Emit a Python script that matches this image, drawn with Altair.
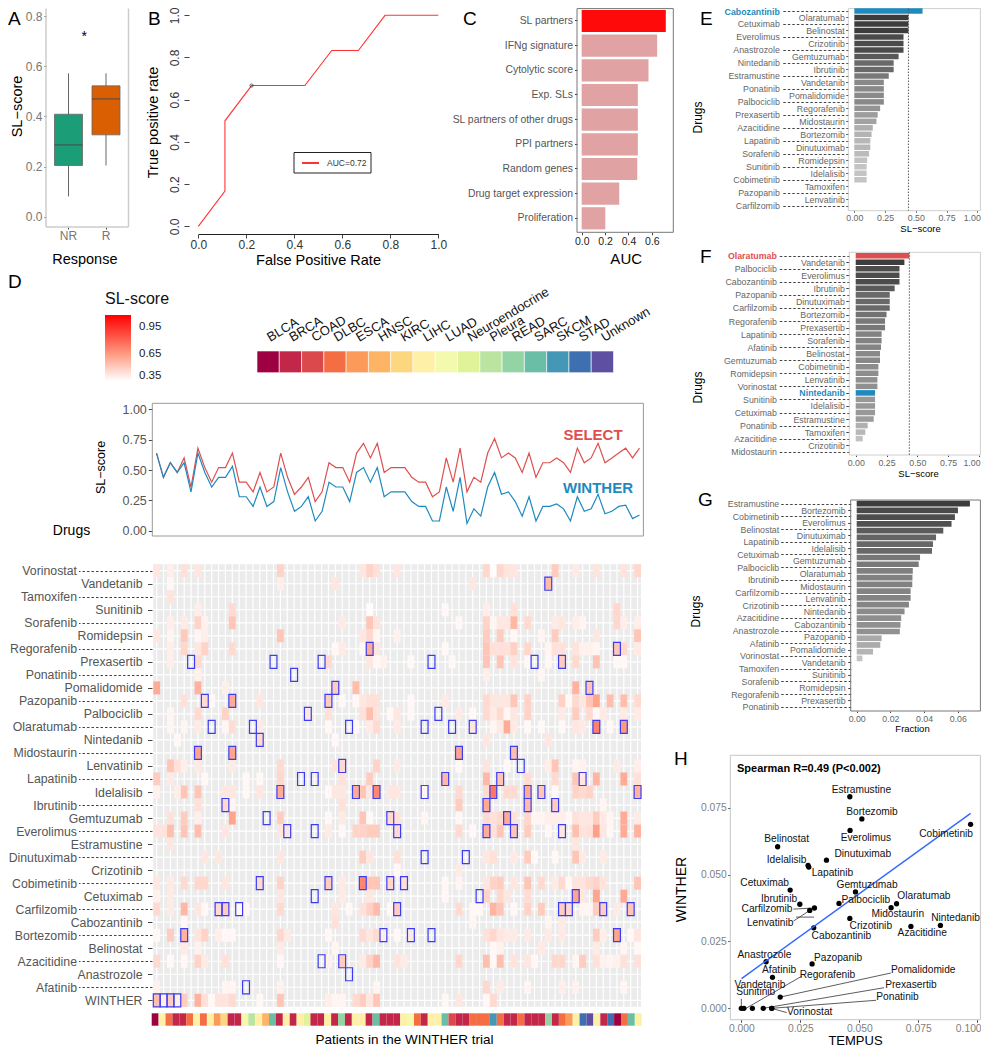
import altair as alt
import pandas as pd

W, H = 973, 1038
FONT = "Liberation Sans"

# ---------- data ----------
box_groups = ["NR", "R"]
box_min = [0.082, 0.205]
box_q1 = [0.205, 0.327]
box_med = [0.287, 0.47]
box_q3 = [0.409, 0.522]
box_max = [0.572, 0.572]

roc_fpr = [0, 0.111, 0.111, 0.222, 0.444, 0.556, 0.667, 0.778, 1]
roc_tpr = [0, 0.167, 0.5, 0.667, 0.667, 0.833, 0.833, 1, 1]

auc_names = ["SL partners", "IFNg signature", "Cytolytic score", "Exp. SLs", "SL partners of other drugs",
             "PPI partners", "Random genes", "Drug target expression", "Proliferation"]
auc_vals = [0.719, 0.645, 0.571, 0.48, 0.48, 0.48, 0.475, 0.321, 0.202]

e_names = ["Cabozantinib", "Olaratumab", "Cetuximab", "Belinostat", "Everolimus", "Crizotinib", "Anastrozole",
           "Gemtuzumab", "Nintedanib", "Ibrutinib", "Estramustine", "Vandetanib", "Ponatinib", "Pomalidomide",
           "Palbociclib", "Regorafenib", "Prexasertib", "Midostaurin", "Azacitidine", "Bortezomib", "Lapatinib",
           "Dinutuximab", "Sorafenib", "Romidepsin", "Sunitinib", "Idelalisib", "Cobimetinib", "Tamoxifen",
           "Pazopanib", "Lenvatinib", "Carfilzomib"]
e_vals = [0.555, 0.44, 0.44, 0.44, 0.40, 0.40, 0.40, 0.36, 0.32, 0.32, 0.28, 0.24, 0.24, 0.24, 0.24, 0.21, 0.19,
          0.18, 0.15, 0.14, 0.13, 0.13, 0.12, 0.105, 0.10, 0.10, 0.10, 0, 0, 0, 0]

f_names = ["Olaratumab", "Vandetanib", "Palbociclib", "Everolimus", "Cabozantinib", "Ibrutinib", "Pazopanib",
           "Dinutuximab", "Carfilzomib", "Bortezomib", "Regorafenib", "Prexasertib", "Lapatinib", "Sorafenib",
           "Afatinib", "Belinostat", "Gemtuzumab", "Cobimetinib", "Romidepsin", "Lenvatinib", "Vorinostat",
           "Nintedanib", "Sunitinib", "Idelalisib", "Cetuximab", "Estramustine", "Ponatinib", "Tamoxifen",
           "Azacitidine", "Crizotinib", "Midostaurin"]
f_vals = [0.435, 0.395, 0.355, 0.355, 0.355, 0.316, 0.276, 0.276, 0.276, 0.25, 0.238, 0.238, 0.21, 0.21, 0.205,
          0.197, 0.197, 0.184, 0.184, 0.176, 0.176, 0.157, 0.157, 0.157, 0.157, 0.146, 0.097, 0.078, 0.057, 0, 0]

g_names = ["Estramustine", "Bortezomib", "Cobimetinib", "Everolimus", "Belinostat", "Dinutuximab", "Lapatinib",
           "Idelalisib", "Cetuximab", "Gemtuzumab", "Palbociclib", "Olaratumab", "Ibrutinib", "Midostaurin",
           "Carfilzomib", "Lenvatinib", "Crizotinib", "Nintedanib", "Azacitidine", "Cabozantinib", "Anastrozole",
           "Pazopanib", "Afatinib", "Pomalidomide", "Vorinostat", "Vandetanib", "Tamoxifen", "Sunitinib",
           "Sorafenib", "Romidepsin", "Regorafenib", "Prexasertib", "Ponatinib"]
g_vals = [0.0672, 0.0601, 0.0583, 0.0563, 0.0514, 0.0471, 0.0453, 0.0447, 0.0376, 0.0368, 0.0333, 0.0331, 0.033,
          0.032, 0.032, 0.031, 0.0284, 0.0264, 0.026, 0.0256, 0.0148, 0.014, 0.0097, 0.0034]

h_names = ["Estramustine", "Bortezomib", "Everolimus", "Cobimetinib", "Belinostat", "Dinutuximab", "Idelalisib",
           "Lapatinib", "Cetuximab", "Gemtuzumab", "Palbociclib", "Olaratumab", "Ibrutinib", "Midostaurin",
           "Carfilzomib", "Lenvatinib", "Crizotinib", "Nintedanib", "Azacitidine", "Cabozantinib", "Anastrozole",
           "Pazopanib", "Afatinib", "Pomalidomide", "Regorafenib", "Prexasertib", "Vandetanib", "Ponatinib",
           "Sunitinib", "Vorinostat"]
h_tempus = [0.046, 0.0511, 0.0461, 0.0972, 0.0154, 0.0361, 0.0283, 0.0286, 0.0207, 0.0484, 0.0414, 0.0658, 0.0248,
            0.0635, 0.031, 0.029, 0.046, 0.0844, 0.0719, 0.0307, 0.0105, 0.03, 0.0132, 0.0165, 0.0047, 0.0093,
            0.0011, 0.0129, 0.0, 0.0129]
h_winther = [0.0791, 0.0708, 0.0665, 0.0688, 0.0604, 0.0554, 0.0534, 0.0528, 0.0442, 0.0435, 0.0392, 0.0391, 0.0389,
             0.0376, 0.0375, 0.0366, 0.0336, 0.031, 0.0306, 0.0301, 0.0174, 0.0166, 0.0116, 0.0042, 0, 0, 0, 0, 0, 0]
h_label_x = [0.0509, 0.0554, 0.0528, 0.0868, 0.0192, 0.0515, 0.0192, 0.0386, 0.0099, 0.0533, 0.0528, 0.0774, 0.016,
             0.0663, 0.0109, 0.0122, 0.0549, 0.0908, 0.0767, 0.0424, 0.0098, 0.041, 0.016, 0.0771, 0.0365, 0.0719,
             0.0079, 0.0662, 0.0061, 0.029]
h_label_y = [0.0817, 0.0734, 0.0638, 0.0652, 0.0632, 0.0578, 0.0554, 0.0506, 0.0468, 0.046, 0.0404, 0.042, 0.0407,
             0.0351, 0.0371, 0.0318, 0.0309, 0.0338, 0.0283, 0.0269, 0.0201, 0.0189, 0.0143, 0.0142, 0.0125, 0.0088,
             0.0088, 0.0044, 0.006, -0.0012]
lead_x0 = [0.0221, 0.0221, 0.0232, 0.002, 0.0165, 0.0093, 0.0129, 0.0129, 0.0]
lead_y0 = [0.0371, 0.0326, 0.0341, 0.0, 0.0042, 0.0, 0.0, 0.0, 0.0036]
lead_x1 = [0.031, 0.029, 0.0308, 0.0256, 0.0634, 0.0605, 0.0571, 0.0192, 0.0]
lead_y1 = [0.0375, 0.0366, 0.0341, 0.012, 0.0132, 0.0077, 0.003, -0.0016, 0.0005]
fit_x = [0.0001, 0.0972]
fit_y = [0.0111, 0.0729]

select_line = [.64, .44, .56, .48, .60, .36, .68, .52, .40, .52, .52, .64, .40, .40, .32, .48, .32, .36, .64, .44,
               .30, .36, .44, .24, .32, .56, .52, .52, .40, .64, .72, .60, .72, .48, .52, .52, .52, .44, .40, .40,
               .28, .32, .60, .40, .68, .32, .44, .40, .64, .76, .60, .64, .60, .48, .64, .44, .56, .56, .60, .56,
               .48, .68, .56, .60, .72, .56, .60, .64, .68, .60, .68]
winther_line = [.64, .44, .56, .48, .56, .32, .64, .48, .36, .44, .44, .53, .28, .28, .20, .36, .20, .24, .52, .32,
                .16, .20, .28, .08, .16, .40, .36, .36, .24, .48, .52, .40, .52, .28, .32, .32, .32, .24, .20, .20,
                .08, .08, .36, .16, .44, .06, .18, .12, .36, .48, .30, .32, .24, .12, .28, .08, .20, .20, .22, .18,
                .08, .28, .16, .18, .30, .14, .16, .20, .21, .10, .13]

tumours = ["BLCA", "BRCA", "COAD", "DLBC", "ESCA", "HNSC", "KIRC", "LIHC", "LUAD", "Neuroendocrine", "Pleura",
           "READ", "SARC", "SKCM", "STAD", "Unknown"]
tumour_colours = ["#9E0142", "#C2274A", "#DC494C", "#F46D43", "#FB9A59", "#FDB565", "#FDD680", "#FEF0A7", "#F3FAAD",
                  "#E1F398", "#BBE4A0", "#94D4A4", "#69BEA5", "#4498B5", "#3E6FB0", "#5E4FA2"]
patient_tumour = ["BLCA", "LIHC", "DLBC", "BRCA", "BRCA", "DLBC", "LIHC", "DLBC", "LIHC", "ESCA", "KIRC", "BRCA",
                  "BRCA", "LUAD", "Pleura", "LIHC", "HNSC", "SARC", "BRCA", "LIHC", "BRCA", "LIHC", "Neuroendocrine",
                  "BRCA", "BRCA", "LIHC", "BRCA", "READ", "BRCA", "LIHC", "LIHC", "BRCA", "SARC", "BRCA", "BRCA",
                  "BRCA", "LIHC", "LUAD", "DLBC", "BRCA", "LIHC", "LIHC", "SARC", "COAD", "BRCA", "BRCA", "DLBC",
                  "DLBC", "DLBC", "SKCM", "DLBC", "BRCA", "BRCA", "DLBC", "BRCA", "BRCA", "BRCA", "READ", "BRCA",
                  "DLBC", "ESCA", "LIHC", "STAD", "Unknown", "LIHC", "BRCA", "STAD", "BLCA", "DLBC", "SARC", "LIHC"]

heat_drugs = ["Vorinostat", "Vandetanib", "Tamoxifen", "Sunitinib", "Sorafenib", "Romidepsin", "Regorafenib",
              "Prexasertib", "Ponatinib", "Pomalidomide", "Pazopanib", "Palbociclib", "Olaratumab", "Nintedanib",
              "Midostaurin", "Lenvatinib", "Lapatinib", "Idelalisib", "Ibrutinib", "Gemtuzumab", "Everolimus",
              "Estramustine", "Dinutuximab", "Crizotinib", "Cobimetinib", "Cetuximab", "Carfilzomib", "Cabozantinib",
              "Bortezomib", "Belinostat", "Azacitidine", "Anastrozole", "Afatinib", "WINTHER"]
heat_tiles = [
 {0:.42,2:.40,4:.44,6:.42,18:.48,30:.42,31:.48,32:.44,35:.42,48:.47,49:.36,50:.47,51:.43,52:.42,58:.5,61:.41,64:.43,68:.43,70:.47},
 {2:.37,18:.40,26:.42,46:.42,57:.55},
 {2:.43},
 {6:.40,11:.46,31:.36,42:.37,48:.40,52:.44,67:.47},
 {2:.40,4:.41,6:.48,7:.39,11:.52,27:.41,31:.52,32:.43,44:.37,48:.48,49:.38,50:.42,51:.42,52:.56,54:.46,58:.41,59:.42,61:.40,62:.38,67:.47,68:.40,70:.40},
 {0:.42,2:.38,4:.51,6:.38,7:.40,18:.52,30:.42,31:.47,32:.38,35:.39,48:.5,50:.5,52:.37,56:.38,58:.5,64:.42,70:.52},
 {2:.40,4:.47,6:.42,7:.48,11:.46,26:.37,27:.41,30:.37,31:.6,32:.42,42:.37,48:.52,49:.44,50:.44,51:.44,52:.49,54:.47,57:.38,58:.44,59:.44,61:.43,62:.39,63:.39,64:.38,67:.52,68:.46,70:.41},
 {2:.40,6:.46,25:.46,31:.42,32:.37,33:.39,37:.37,43:.37,48:.52,50:.52,52:.43,54:.37,57:.37,59:.5,61:.46,64:.53,67:.37,68:.37},
 {6:.39,48:.40,56:.38},
 {0:.6,6:.58,10:.4,26:.5,29:.55,61:.58,63:.52},
 {4:.44,7:.46,8:.37,11:.6,15:.42,25:.5,27:.37,29:.37,30:.42,31:.44,32:.44,37:.37,42:.41,48:.46,49:.42,50:.42,51:.42,52:.52,54:.48,59:.49,60:.37,61:.46,62:.42,63:.52,64:.62,66:.54,68:.54,70:.46},
 {2:.38,6:.46,10:.48,22:.42,25:.44,30:.44,31:.54,32:.43,34:.37,35:.42,37:.37,44:.41,46:.37,48:.46,49:.41,50:.46,51:.38,52:.42,54:.48,59:.41,61:.5,63:.46,64:.37,65:.41,68:.41,70:.41},
 {2:.38,4:.38,6:.41,10:.38,11:.45,15:.41,25:.37,29:.37,31:.41,32:.46,35:.41,46:.42,49:.38,50:.41,51:.6,52:.41,54:.37,56:.37,59:.37,61:.42,62:.41,64:.72,66:.37,68:.65},
 {3:.37,15:.46,26:.37,48:.42,57:.42},
 {6:.62,11:.62,44:.62,52:.54},
 {2:.52,3:.44,4:.40,6:.41,11:.41,18:.46,26:.43,27:.46,32:.48,35:.41,44:.37,48:.43,51:.37,57:.40,58:.52,61:.38,62:.39,67:.41,70:.40},
 {0:.5,2:.41,7:.37,13:.37,15:.37,18:.47,27:.44,31:.5,42:.56,48:.56,50:.52,54:.45,58:.46,61:.52,62:.42,64:.57,68:.6,70:.44},
 {0:.39,3:.4,4:.52,6:.52,10:.42,11:.42,13:.37,15:.42,18:.6,25:.37,26:.42,27:.42,29:.6,30:.52,31:.42,32:.7,34:.42,35:.42,39:.38,44:.46,48:.46,49:.75,51:.46,52:.46,54:.6,56:.52,58:.37,61:.48,62:.46,63:.48,70:.58},
 {6:.44,10:.46,11:.38,27:.44,44:.5,48:.6,54:.55,58:.5,65:.38},
 {2:.44,4:.5,6:.4,11:.62,18:.5,25:.37,27:.41,30:.52,31:.37,34:.46,35:.44,39:.38,44:.37,48:.46,49:.44,50:.46,51:.6,52:.44,54:.47,55:.38,56:.38,57:.40,58:.40,59:.40,60:.37,61:.44,62:.42,63:.42,64:.5,65:.41,66:.38,68:.6,70:.41},
 {0:.43,1:.43,2:.54,4:.52,6:.54,10:.42,18:.42,19:.42,25:.41,27:.37,29:.48,30:.48,31:.5,32:.5,35:.46,44:.46,46:.37,48:.6,49:.44,50:.52,52:.52,54:.5,57:.37,59:.42,61:.54,62:.43,63:.44,64:.63,65:.42,66:.37,68:.6,70:.58},
 {2:.42,61:.42},
 {7:.42,9:.42,18:.42,30:.5,31:.42,35:.44,48:.42,49:.44,52:.41,54:.5,55:.37,58:.37,61:.52,62:.41,65:.41},
 {35:.37,44:.41},
 {0:.42,2:.41,4:.46,6:.47,7:.47,10:.42,15:.46,18:.48,25:.5,27:.41,30:.7,31:.52,32:.52,34:.47,36:.44,42:.37,44:.38,48:.42,49:.48,50:.5,52:.42,54:.52,56:.46,58:.41,59:.46,60:.37,61:.43,62:.43,63:.46,64:.48,65:.43,70:.52},
 {0:.39,2:.41,18:.42,27:.41,31:.42,42:.37,48:.48,50:.47,51:.42,54:.45,61:.62,62:.42,64:.62,68:.6},
 {0:.46,2:.41,4:.56,6:.42,7:.37,9:.46,10:.5,12:.37,13:.37,18:.46,26:.42,28:.37,30:.44,31:.49,32:.55,34:.37,35:.5,44:.46,46:.37,47:.37,49:.57,50:.52,52:.37,54:.48,56:.5,59:.5,60:.46,62:.38,63:.38,64:.5,65:.5,67:.41,69:.52},
 {4:.37,26:.44,46:.38,57:.38,59:.41},
 {0:.37,2:.5,4:.58,6:.43,7:.48,9:.4,10:.37,11:.37,18:.47,19:.41,25:.37,30:.46,31:.42,32:.46,33:.4,35:.37,37:.41,48:.44,49:.47,50:.42,51:.41,52:.41,54:.41,57:.41,59:.41,64:.5,65:.4,67:.62,69:.37,70:.42},
 {4:.41,6:.39,18:.41,26:.38,49:.37,50:.39,56:.41,64:.41,68:.38,70:.37},
 {0:.46,2:.37,4:.37,6:.48,7:.41,10:.44,18:.37,25:.39,27:.5,30:.41,31:.48,32:.56,35:.43,36:.41,44:.47,48:.54,49:.37,50:.54,52:.43,54:.42,55:.37,58:.47,59:.47,61:.38,62:.5,64:.44,65:.39,66:.38,67:.39,68:.44,70:.44},
 {},
 {0:.39,10:.38,11:.38,18:.39,32:.38,48:.47,50:.41,54:.38,59:.40,61:.39,68:.38},
 {0:.54,1:.4,2:.5,3:.4,4:.5,6:.58,7:.44,8:.37,9:.43,10:.43,11:.46,15:.37,18:.52,25:.4,26:.38,27:.38,29:.46,30:.5,31:.42,32:.52,42:.37,44:.42,48:.37,49:.46},
]
heat_boxes = {1:[57],6:[31,67],7:[5,17,24,40,55,59],8:[20],9:[26,63],10:[7,11,25],11:[22,41],
              12:[8,14,28,39,43,46,64,68],13:[15],14:[6,11,44,52],15:[27,53],16:[21,23,42,50,62],
              17:[18,29,32,39,49,54,56,70],18:[10,48,54,58],19:[16,34,51],20:[19,23,35,48,52,59],22:[39,45],
              24:[15,25,30,34,36],25:[23,47,61],26:[9,10,12,35,59,60,65,69],28:[4,33,37,40,67],30:[24,27],
              31:[28],32:[13],33:[0,1,2,3]}

# ---------- helpers ----------
one = pd.DataFrame({"k": [0]})
L = []


def vx(p):
    return p - 8


def xscale(domain, r0, r1):
    return alt.Scale(domain=domain, range=[vx(r0), vx(r1)], nice=False, zero=False)


def yscale(domain, bottom, top):
    return alt.Scale(domain=domain, range=[vx(bottom), vx(top)], nice=False, zero=False)


def frame(x0, x1, y0, y1, colour, width=1.0):
    L.append(alt.Chart(one).mark_rect(fillOpacity=0, stroke=colour, strokeWidth=width).encode(
        x=alt.value(vx(x0)), x2=alt.value(vx(min(x1, 980.4))), y=alt.value(vx(max(y0, 8.6))), y2=alt.value(vx(y1))))


def note(text, x, y, size=12, colour="#000000", weight="normal", align="left", angle=0):
    L.append(alt.Chart(one).mark_text(text=text, fontSize=size, color=colour, fontWeight=weight, align=align,
                                      baseline="middle", angle=angle, font=FONT).encode(
        x=alt.value(vx(x)), y=alt.value(vx(y))))


def left_axis(x, title=None, tx=0, ty=0, size=12, colour="#4d4d4d", tick=3, pad=2, title_size=14, angle=270, **kw):
    d = dict(orient="left", offset=-vx(x), labelFontSize=size, labelColor=colour, tickSize=tick, labelPadding=pad,
             title=title, domain=False, grid=False, tickColor="#444444", labelFlush=False, labelOverlap=False)
    if title:
        d.update(titleX=tx - x, titleY=vx(ty), titleFontSize=title_size, titleAlign="center",
                 titleBaseline="middle", titleAngle=angle, titleFontWeight="normal", titleColor="#000000")
    d.update(kw)
    return alt.Axis(**d)


def bottom_axis(y, title=None, tx=0, ty=0, size=12, colour="#4d4d4d", tick=3, pad=2, title_size=14, **kw):
    d = dict(orient="bottom", offset=vx(y) - H, labelFontSize=size, labelColor=colour, tickSize=tick, labelPadding=pad,
             title=title, domain=False, grid=False, tickColor="#444444", labelFlush=False, labelOverlap=False)
    if title:
        d.update(titleX=vx(tx), titleY=ty - y, titleFontSize=title_size, titleAlign="center",
                 titleBaseline="middle", titleFontWeight="normal", titleColor="#000000")
    d.update(kw)
    return alt.Axis(**d)


def split_axes(names, c0, cn, ax, far_tick, far_pad, near_tick, near_pad, size, colour, title=None, tx=0, ty=0,
               title_size=12, title_angle=270, highlight=None):
    """Two axes on one category scale: alternate labels, the far ones reached by a dashed tick."""
    highlight = highlight or {}
    scale = alt.Scale(type="point", domain=names, range=[vx(c0), vx(cn)], padding=0)
    far = names[0::2]
    near = names[1::2]
    df = pd.DataFrame({"name": names})

    def label_style(vals):
        test = [n for n in vals if n in highlight]
        if not test:
            return {"labelColor": colour}
        n = test[0]
        return {"labelColor": {"condition": {"test": f"datum.value === '{n}'", "value": highlight[n]}, "value": colour},
                "labelFontWeight": {"condition": {"test": f"datum.value === '{n}'", "value": "bold"}, "value": "normal"}}

    far_opts = dict(values=far, tickDash=[2.5, 2])
    far_opts.update(label_style(far))
    near_opts = dict(values=near)
    near_opts.update(label_style(near))
    a_far = left_axis(ax, title, tx, ty, size=size, tick=far_tick, pad=far_pad, title_size=title_size,
                      angle=title_angle, **far_opts)
    a_near = left_axis(ax, size=size, tick=near_tick, pad=near_pad, **near_opts)
    for a in (a_far, a_near):
        L.append(alt.Chart(df).mark_point(opacity=0).encode(
            y=alt.Y("name:N", sort=None, scale=scale, axis=a),
            x=alt.value(0)))


def band(names, c0, cn, inner=0.15):
    p = (cn - c0) / (len(names) - 1)
    return alt.Scale(domain=names, range=[vx(c0 - p / 2), vx(cn + p / 2)], paddingInner=inner, paddingOuter=inner / 2)


def nudge_last(value, dx):
    return {"condition": {"test": f"datum.value === {value}", "value": dx}, "value": 0}


# ---------- panel letters ----------
for letter, x, y in [("A", 8, 19), ("B", 148, 19), ("C", 463, 19), ("D", 8, 282), ("E", 700, 19), ("F", 700, 257),
                     ("G", 698, 500), ("H", 674, 759)]:
    note(letter, x, y, size=19)

# ---------- A ----------
ay = yscale([-0.04, 0.836], 227, 7)
ax_scale = alt.Scale(domain=box_groups, range=[vx(46), vx(128.5)], paddingInner=0, paddingOuter=0.1)
adf = pd.DataFrame({"g": box_groups, "lo": box_min, "q1": box_q1, "med": box_med, "q3": box_q3, "hi": box_max})
for x0, x1, y0, y1 in [(46, 46, 8.5, 227), (128.5, 128.5, 8.5, 227), (46, 128.5, 227, 227)]:
    L.append(alt.Chart(one).mark_rule(color="#cccccc", strokeWidth=1.5).encode(
        x=alt.value(vx(x0)), x2=alt.value(vx(x1)), y=alt.value(vx(y0)), y2=alt.value(vx(y1))))
L.append(alt.Chart(adf).mark_rule(color="#666666", strokeWidth=1).encode(
    x=alt.X("g:N", scale=ax_scale, sort=None,
            axis=bottom_axis(227, "Response", 84.3, 259, size=12, colour="#777777", tick=2, pad=1, title_size=14.5,
                             labelAngle=0)),
    y=alt.Y("lo:Q", scale=ay, axis=left_axis(46, "SL−score", 17, 106, size=12, colour="#777777", tick=2, pad=2,
                                             title_size=14.5, values=[0, .2, .4, .6, .8], format=".1f")),
    y2="hi:Q"))
L.append(alt.Chart(adf).mark_bar(size=28, stroke="#666666", strokeWidth=0.8).encode(
    x=alt.X("g:N", scale=ax_scale, sort=None, axis=None),
    y=alt.Y("q1:Q", scale=ay, axis=None), y2="q3:Q",
    color=alt.Color("g:N", scale=alt.Scale(domain=box_groups, range=["#1B9E77", "#D95F02"]), legend=None)))
L.append(alt.Chart(adf).mark_tick(size=28, thickness=1.5, color="#4a4a4a").encode(
    x=alt.X("g:N", scale=ax_scale, sort=None, axis=None),
    y=alt.Y("med:Q", scale=ay, axis=None)))
note("*", 84.3, 37, size=14, align="center")

# ---------- B ----------
bx = xscale([0, 1], 198.3, 438.3)
by = yscale([0, 1], 226.3, 15.3)
bdf = pd.DataFrame({"fpr": roc_fpr, "tpr": roc_tpr, "i": range(len(roc_fpr))})
L.append(alt.Chart(bdf).mark_line(color="#FF3333", strokeWidth=1.1).encode(
    x=alt.X("fpr:Q", scale=bx, axis=bottom_axis(234, "False Positive Rate", 318, 260, size=12, colour="#333333",
                                                tick=4, pad=1.5, title_size=14.5, domain=True, domainColor="#222222",
                                                values=[0, .2, .4, .6, .8, 1], format=".1f")),
    y=alt.Y("tpr:Q", scale=by, axis=left_axis(189, "True positive rate", 153, 122, size=12, colour="#333333", tick=5,
                                              pad=3, title_size=14.5, values=[0, .2, .4, .6, .8, 1], format=".1f",
                                              labelAngle=-90, labelAlign="center", labelBaseline="bottom")),
    order="i:Q"))
L.append(alt.Chart(pd.DataFrame({"fpr": [roc_fpr[3]], "tpr": [roc_tpr[3]]})).mark_point(
    size=10, stroke="#111111", strokeWidth=0.9).encode(
    x=alt.X("fpr:Q", scale=bx, axis=None), y=alt.Y("tpr:Q", scale=by, axis=None)))
frame(294, 371, 152.5, 173, "#222222", 1)
L.append(alt.Chart(one).mark_rule(color="#FF0000", strokeWidth=1.6).encode(
    x=alt.value(vx(302)), x2=alt.value(vx(319)), y=alt.value(vx(163))))
note("AUC=0.72", 327, 163, size=8.5, colour="#333333")

# ---------- C ----------
frame(577, 673.3, 6, 232.3, "#777777", 1)
cx = xscale([-0.04, 0.783], 577, 673.3)
cband = band(auc_names, 21, 218.3, 0.1)
cdf = pd.DataFrame({"name": auc_names, "v": auc_vals,
                    "top": ["yes" if i == 0 else "no" for i in range(len(auc_names))]})
L.append(alt.Chart(cdf).mark_bar().encode(
    y=alt.Y("name:N", sort=None, scale=cband,
            axis=left_axis(577, size=10.4, colour="#555555", tick=2.5, pad=2)),
    x=alt.X("v:Q", scale=cx, axis=bottom_axis(232.3, "AUC", 625.7, 258, size=10.5, colour="#222222", tick=2.5, pad=2,
                                              title_size=15, values=[0, .2, .4, .6], format=".1f")),
    color=alt.Color("top:N", scale=alt.Scale(domain=["yes", "no"], range=["#FF0A0A", "#E0A2A2"]), legend=None)))


# ---------- E, F, G ----------
def drug_panel(bar_names, vals, frame_box, frame_col, x_dom, ticks, fmt, c0, cn, x_title, tx, ty,
               vline=None, highlight_bars=None, grey_dom=(0.1, 0.44), axis_extra=None):
    x0, x1, y0, y1 = frame_box
    frame(x0, x1, y0, y1, frame_col, 1)
    xs = xscale(x_dom, x0, x1)
    highlight_bars = highlight_bars or {}
    axis_extra = axis_extra or {}
    bs = band(bar_names, c0, cn, 0.15)
    df = pd.DataFrame({"name": bar_names, "v": vals})
    grey = df[(~df["name"].isin(highlight_bars)) & (df["v"] > 0)]
    L.append(alt.Chart(grey).mark_bar().encode(
        y=alt.Y("name:N", sort=None, scale=bs, axis=None),
        x=alt.X("v:Q", scale=xs, axis=bottom_axis(y1, x_title, tx, ty, size=8.8, colour="#666666", tick=1.5, pad=1.5,
                                                  title_size=9.5, values=ticks, format=fmt, **axis_extra)),
        color=alt.Color("v:Q", scale=alt.Scale(domain=list(grey_dom), range=["#c4c4c4", "#3c3c3c"]), legend=None)))
    for n, colr in highlight_bars.items():
        L.append(alt.Chart(df[df["name"] == n]).mark_bar(color=colr).encode(
            y=alt.Y("name:N", sort=None, scale=bs, axis=None),
            x=alt.X("v:Q", scale=xs, axis=None)))
    if vline is not None:
        L.append(alt.Chart(pd.DataFrame({"v": [vline]})).mark_rule(color="#555555", strokeWidth=1,
                                                                   strokeDash=[1.5, 1.5]).encode(
            x=alt.X("v:Q", scale=xs, axis=None), y=alt.value(vx(max(y0, 8.6))), y2=alt.value(vx(y1))))


BLUE = "#1F8AC0"
RED = "#DE5050"
drug_panel(e_names, e_vals, (848.3, 983.3, 7.3, 210.7), "#cfcfcf", [-0.049, 1.049], [0, .25, .5, .75, 1], ".2f",
           11, 205.7, "SL−score", 920, 228, vline=0.44, highlight_bars={"Cabozantinib": BLUE},
           axis_extra={"labelOffset": nudge_last(1, -5.5)})
split_axes(e_names, 11, 205.7, 848.3, 67, 2, 2.5, 1.5, 8.8, "#666666", "Drugs", 697, 117,
           highlight={"Cabozantinib": BLUE})

drug_panel(f_names, f_vals, (849.3, 983.3, 252.3, 455), "#cfcfcf", [-0.052, 1.035], [0, .25, .5, .75, 1], ".2f",
           255.7, 451.7, "SL−score", 918, 473, vline=0.435,
           highlight_bars={"Olaratumab": RED, "Nintedanib": BLUE}, grey_dom=(0.05, 0.4),
           axis_extra={"labelOffset": nudge_last(1, -7.5)})
split_axes(f_names, 255.7, 451.7, 849.3, 71, 2, 3.5, 1.5, 8.8, "#666666", "Drugs", 697, 387,
           highlight={"Olaratumab": RED, "Nintedanib": BLUE})

g_ranks = [str(i) for i in range(31)]
g_bar_vals = g_vals + [0] * 7
drug_panel(g_ranks, g_bar_vals, (850.7, 981.7, 500, 711), "#777777", [-0.00356, 0.0742], [0, .02, .04, .06], ".2f",
           503.7, 705.5, "Fraction", 912, 728, grey_dom=(0.003, 0.0672))
split_axes(g_names, 503.7, 706.7, 850.7, 70, 2, 3, 2.5, 8.8, "#666666", "Drugs", 695, 611)

# ---------- H ----------
frame(730.3, 981.7, 755.3, 1019.7, "#c6c6c6", 1)
hx = xscale([-0.00467, 0.1019], 730.3, 981.7)
hy = yscale([-0.00426, 0.0946], 1019.7, 755.3)
hdf = pd.DataFrame({"name": h_names, "t": h_tempus, "w": h_winther, "lx": h_label_x, "ly": h_label_y})
ldf = pd.DataFrame({"x0": lead_x0, "y0": lead_y0, "x1": lead_x1, "y1": lead_y1})
L.append(alt.Chart(ldf).mark_rule(color="#333333", strokeWidth=0.8).encode(
    x=alt.X("x0:Q", scale=hx, axis=None), x2="x1:Q", y=alt.Y("y0:Q", scale=hy, axis=None), y2="y1:Q"))
L.append(alt.Chart(hdf).mark_circle(size=28, color="#000000", opacity=1).encode(
    x=alt.X("t:Q", scale=hx, axis=bottom_axis(1019.7, "TEMPUS", 855, 1040, size=10.3, colour="#7f7f7f", tick=2.5, pad=1,
                                              title_size=13, values=[0, .025, .05, .075, .1], format=".3f",
                                              labelOffset=nudge_last(0.1, -9))),
    y=alt.Y("w:Q", scale=hy, axis=left_axis(730.3, "WINTHER", 681, 889, size=10.3, colour="#7f7f7f", tick=2.5, pad=1.5,
                                            title_size=14, values=[0, .025, .05, .075], format=".3f"))))
L.append(alt.Chart(pd.DataFrame({"x": fit_x, "y": fit_y})).mark_line(color="#3366FF", strokeWidth=1.4).encode(
    x=alt.X("x:Q", scale=hx, axis=None), y=alt.Y("y:Q", scale=hy, axis=None)))
L.append(alt.Chart(hdf).mark_text(fontSize=10.2, color="#111111", font=FONT).encode(
    x=alt.X("lx:Q", scale=hx, axis=None), y=alt.Y("ly:Q", scale=hy, axis=None), text="name:N"))
note("Spearman R=0.49 (P<0.002)", 737, 768.7, size=11, weight="bold")

# ---------- D: tumour key ----------
tx_scale = alt.Scale(domain=tumours, range=[vx(257), vx(613.5)], paddingInner=0, paddingOuter=0)
L.append(alt.Chart(pd.DataFrame({"t": tumours})).mark_rect(stroke="#ffffff", strokeWidth=0.6).encode(
    x=alt.X("t:N", sort=None, scale=tx_scale,
            axis=alt.Axis(orient="top", offset=-vx(338), title=None, ticks=False, domain=False, grid=False,
                          labelAngle=-31, labelAlign="left", labelBaseline="middle", labelFontSize=13,
                          labelColor="#111111", labelPadding=0, labelOverlap=False)),
    y=alt.value(vx(351)), y2=alt.value(vx(372.7)),
    color=alt.Color("t:N", sort=None, scale=alt.Scale(domain=tumours, range=tumour_colours), legend=None)))

# ---------- D: score lines ----------
frame(152.3, 643.4, 403.3, 536, "#999999", 1)
dx = xscale([-0.61, 70.57], 152.3, 643.4)
dy = yscale([-0.0437, 1.05], 536, 403.3)
line_df = pd.concat([
    pd.DataFrame({"c": range(71), "v": select_line, "s": "SELECT"}),
    pd.DataFrame({"c": range(71), "v": winther_line, "s": "WINTHER"})])
L.append(alt.Chart(line_df).mark_line(strokeWidth=1.2).encode(
    x=alt.X("c:Q", scale=dx, axis=None),
    y=alt.Y("v:Q", scale=dy, axis=left_axis(152.3, "SL−score", 100.7, 467, size=12.5, colour="#555555", tick=4, pad=2,
                                            title_size=12.5, values=[0, .25, .5, .75, 1], format=".2f")),
    color=alt.Color("s:N", scale=alt.Scale(domain=["SELECT", "WINTHER"], range=[RED, BLUE]), legend=None)))
note("SELECT", 593, 435, size=15, colour=RED, weight="bold", align="center")
note("WINTHER", 598, 488, size=15, colour=BLUE, weight="bold", align="center")

# ---------- D: heat map ----------
hmx = xscale([-0.5, 70.5], 153.3, 641)
hmy = yscale([33.5, -0.5], 1006.8, 564.2)
L.append(alt.Chart(pd.DataFrame({"a": [-0.5], "b": [70.5], "c": [-0.5], "d": [33.5]})).mark_rect(color="#EBEBEB").encode(
    x=alt.X("a:Q", scale=hmx, axis=None), x2="b:Q", y=alt.Y("c:Q", scale=hmy, axis=None), y2="d:Q"))
col_grid = pd.DataFrame({"c": range(71), "a": -0.5, "b": 33.5})
row_grid = pd.DataFrame({"r": range(34), "a": -0.5, "b": 70.5})
L.append(alt.Chart(col_grid).mark_rule(color="#ffffff", strokeWidth=1.2).encode(
    x=alt.X("c:Q", scale=hmx, axis=None), y=alt.Y("a:Q", scale=hmy, axis=None), y2="b:Q"))
L.append(alt.Chart(row_grid).mark_rule(color="#ffffff", strokeWidth=1.2).encode(
    y=alt.Y("r:Q", scale=hmy, axis=None), x=alt.X("a:Q", scale=hmx, axis=None), x2="b:Q"))
tile_rec = [{"x0": c - .5, "x1": c + .5, "y0": r - .5, "y1": r + .5, "v": v}
            for r, row in enumerate(heat_tiles) for c, v in row.items()]
L.append(alt.Chart(pd.DataFrame(tile_rec)).mark_rect().encode(
    x=alt.X("x0:Q", scale=hmx, axis=None), x2="x1:Q",
    y=alt.Y("y0:Q", scale=hmy, axis=None), y2="y1:Q",
    color=alt.Color("v:Q", scale=alt.Scale(domain=[.35, .65, 1.08], range=["#ffffff", "#FF9A80", "#FF0000"], clamp=True,
                                           interpolate="rgb"),
                    legend=alt.Legend(orient="none", legendX=vx(105), legendY=vx(291), title="SL-score",
                                      titleFontSize=16, titleFontWeight="normal", titleColor="#111111", titleFont=FONT,
                                      titlePadding=8, gradientLength=66, gradientThickness=26,
                                      values=[.35, .65, .95], labelFontSize=11.5, labelColor="#222222", labelFont=FONT,
                                      labelOffset=8, format=".2f", gradientStrokeWidth=0, labelBaseline="middle"))))
box_rec = [{"x0": c - .5, "x1": c + .5, "y0": r - .5, "y1": r + .5}
           for r, cols in heat_boxes.items() for c in cols]
L.append(alt.Chart(pd.DataFrame(box_rec)).mark_rect(fillOpacity=0, stroke="#3D3DF0", strokeWidth=1.2).encode(
    x=alt.X("x0:Q", scale=hmx, axis=bottom_axis(1006.8, "Patients in the WINTHER trial", 404, 1039, labels=False,
                                                ticks=False, title_size=13.5)),
    x2="x1:Q",
    y=alt.Y("y0:Q", scale=hmy, axis=None), y2="y1:Q"))
split_axes(heat_drugs, 570.7, 1000.3, 152, 73.5, 2, 4.5, 5.5, 12.3, "#555555", "Drugs", 71, 530.7, title_size=14,
           title_angle=0)

# annotation strip
pdf = pd.DataFrame({"x0": [c - .5 for c in range(71)], "x1": [c + .5 for c in range(71)], "t": patient_tumour})
L.append(alt.Chart(pdf).mark_rect().encode(
    x=alt.X("x0:Q", scale=xscale([-0.5, 70.5], 151.7, 641.7), axis=None), x2="x1:Q",
    y=alt.value(vx(1013.3)), y2=alt.value(vx(1025.7)),
    color=alt.Color("t:N", scale=alt.Scale(domain=tumours, range=tumour_colours), legend=None)))

chart = alt.layer(*L).resolve_scale(x="independent", y="independent", color="independent").properties(
    width=W, height=H, padding=0, autosize=alt.AutoSizeParams(type="none")
).configure(font=FONT).configure_view(stroke=None)
chart.save("out.html", embed_options={"renderer": "svg", "actions": False})
